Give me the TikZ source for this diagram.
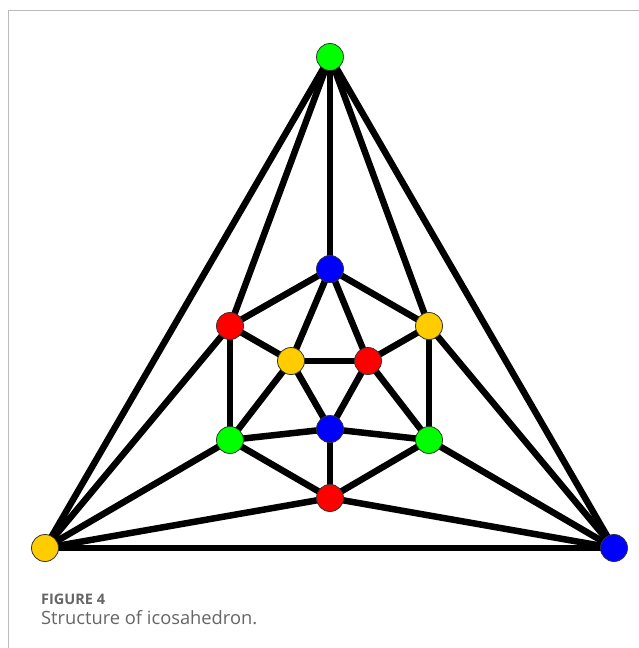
\documentclass[tikz,border=0pt]{standalone}
\usepackage{fontspec}
\setmainfont{Open Sans}
\definecolor{vgreen}{HTML}{00FF00}
\definecolor{vblue}{HTML}{0000FF}
\definecolor{vred}{HTML}{FF0000}
\definecolor{vyellow}{HTML}{FFCC00}
\definecolor{capgray}{HTML}{666666}
\definecolor{framegray}{HTML}{BBBBBB}
\begin{document}
\begin{tikzpicture}[x=1pt,y=-1pt,
  vtx/.style={circle,draw=black!80,line width=0.8pt,minimum size=27pt,inner sep=0pt},
  edge/.style={line width=6.5pt,black}]
\useasboundingbox (0,0) rectangle (639,648);
\fill[white] (0,0) rectangle (639,648);
\draw[framegray,line width=1.3pt] (8.5,648) -- (8.5,10.5) -- (639,10.5);
\coordinate (T) at (330,57);
\coordinate (L) at (45,548);
\coordinate (R) at (614,548);
\coordinate (bt) at (330,269);
\coordinate (rl) at (230,326);
\coordinate (yr) at (429,326);
\coordinate (yi) at (291,361);
\coordinate (ri) at (368,361);
\coordinate (gl) at (230,440);
\coordinate (gr) at (429,440);
\coordinate (bi) at (330,429);
\coordinate (rb) at (330,498);
\foreach \a/\b in {T/L,T/R,T/bt,T/rl,T/yr,L/R,L/rl,L/gl,L/rb,R/yr,R/gr,R/rb,
  bt/rl,bt/yr,bt/yi,bt/ri,rl/yi,rl/gl,yr/ri,yr/gr,yi/ri,yi/gl,yi/bi,ri/bi,ri/gr,
  gl/bi,gl/rb,gr/bi,gr/rb,bi/rb}
  \draw[edge] (\a) -- (\b);
\node[vtx,fill=vgreen] (nT) at (T) {};
\node[vtx,fill=vyellow] (nL) at (L) {};
\node[vtx,fill=vblue] (nR) at (R) {};
\node[vtx,fill=vblue] (nbt) at (bt) {};
\node[vtx,fill=vred] (nrl) at (rl) {};
\node[vtx,fill=vyellow] (nyr) at (yr) {};
\node[vtx,fill=vyellow] (nyi) at (yi) {};
\node[vtx,fill=vred] (nri) at (ri) {};
\node[vtx,fill=vgreen] (ngl) at (gl) {};
\node[vtx,fill=vgreen] (ngr) at (gr) {};
\node[vtx,fill=vblue] (nbi) at (bi) {};
\node[vtx,fill=vred] (nrb) at (rb) {};
\node[anchor=base west,inner sep=0pt,text=capgray,font=\bfseries\fontsize{14.5}{16}\selectfont] (f4) at (41,604) {FIGURE 4};
\node[anchor=base west,inner sep=0pt,text=capgray,font=\fontsize{18.3}{21}\selectfont] (cap) at (41,624) {Structure of icosahedron.};
\end{tikzpicture}
\end{document}
